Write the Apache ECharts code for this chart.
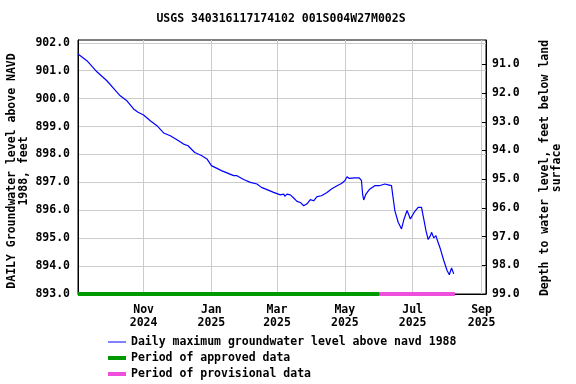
<!DOCTYPE html>
<html><head><meta charset="utf-8">
<script src="https://cdn.jsdelivr.net/npm/echarts@6/dist/echarts.min.js"></script>
<style>html,body{margin:0;padding:0;background:#fff}#c{width:576px;height:384px}</style>
</head><body><div id="c"></div>
<script>
const chartTitle = 'USGS 340316117174102 001S004W27M002S';
const seriesName = 'Daily maximum groundwater level above navd 1988';
const approvedName = 'Period of approved data';
const provisionalName = 'Period of provisional data';

const levelDates = [
 '2024-09-03','2024-09-11','2024-09-20','2024-09-29','2024-10-05','2024-10-11','2024-10-17','2024-10-23','2024-10-27',
 '2024-11-01','2024-11-07','2024-11-13','2024-11-19','2024-11-25','2024-12-01','2024-12-07','2024-12-11','2024-12-17',
 '2024-12-23','2024-12-28','2025-01-01','2025-01-06','2025-01-10','2025-01-15','2025-01-21','2025-01-24','2025-01-30',
 '2025-02-05','2025-02-11','2025-02-15','2025-02-20','2025-02-26','2025-03-04','2025-03-07','2025-03-08','2025-03-10',
 '2025-03-13','2025-03-16','2025-03-19','2025-03-22','2025-03-25','2025-03-28','2025-03-31','2025-04-03','2025-04-06',
 '2025-04-10','2025-04-15','2025-04-19','2025-04-24','2025-04-28','2025-05-01','2025-05-03','2025-05-05','2025-05-10',
 '2025-05-14','2025-05-16','2025-05-17','2025-05-18','2025-05-20','2025-05-23','2025-05-28','2025-06-01','2025-06-06',
 '2025-06-09','2025-06-12','2025-06-13','2025-06-15','2025-06-18','2025-06-21','2025-06-23','2025-06-26','2025-06-27',
 '2025-06-29','2025-07-01','2025-07-03','2025-07-06','2025-07-09','2025-07-11','2025-07-13','2025-07-15','2025-07-17',
 '2025-07-18','2025-07-20','2025-07-22','2025-07-23','2025-07-26','2025-07-29','2025-08-01','2025-08-03','2025-08-05',
 '2025-08-07'
];
const levelValues = [
 901.60,901.36,900.96,900.64,900.37,900.10,899.92,899.63,899.51,
 899.41,899.21,899.03,898.77,898.67,898.53,898.37,898.31,898.07,
 897.96,897.84,897.60,897.50,897.42,897.34,897.24,897.24,897.10,
 897.00,896.94,896.82,896.74,896.64,896.55,896.58,896.50,896.58,
 896.55,896.44,896.32,896.28,896.16,896.23,896.38,896.34,896.49,
 896.52,896.64,896.76,896.88,896.96,897.06,897.20,897.14,897.16,
 897.16,897.06,896.58,896.37,896.58,896.74,896.88,896.88,896.94,
 896.91,896.88,896.58,895.99,895.57,895.33,895.65,895.99,895.99,
 895.69,895.83,895.96,896.10,896.10,895.69,895.27,894.95,895.09,
 895.21,895.01,895.09,894.95,894.61,894.20,893.84,893.69,893.93,
 893.72
];
const approvedPeriod = ['2024-09-03','2025-06-01'];
const provisionalPeriod = ['2025-06-01','2025-08-08'];
const xRange = ['2024-09-03','2025-09-05'];
const xTickDates = ['2024-11-01','2025-01-01','2025-03-01','2025-05-01','2025-07-01','2025-09-01'];
const xTickLabels = ['Nov\n2024','Jan\n2025','Mar\n2025','May\n2025','Jul\n2025','Sep\n2025'];
const leftTicks = [893,894,895,896,897,898,899,900,901,902];
const leftRange = [893, 902.1];
const rightTicks = [91,92,93,94,95,96,97,98,99];
const rightRange = [90.15, 99];
const leftAxisName = 'DAILY Groundwater level above NAVD\n1988, feet';
const rightAxisName = 'Depth to water level, feet below land\nsurface';

const FONT = 'DejaVu Sans Mono';
const FS = 11.5;
const FONTSTR = 'bold 11.5px "DejaVu Sans Mono"';
const ts = s => new Date(s + 'T00:00:00').getTime();
const xTickTs = xTickDates.map(ts);
const levelData = levelDates.map((d, i) => [ts(d), levelValues[i]]);
const txt = {fontFamily: FONT, fontSize: FS, fontWeight: 'bold', color: '#000'};

const chart = echarts.init(document.getElementById('c'), null, {renderer: 'canvas'});
chart.setOption({
  animation: false,
  backgroundColor: '#fff',
  grid: {left: 78, right: 90, top: 40, bottom: 90, show: true, borderColor: '#000', borderWidth: 1, backgroundColor: 'transparent'},
  graphic: [
    {type: 'text', x: 281, y: 19, style: {text: chartTitle, textAlign: 'center', textVerticalAlign: 'middle', font: FONTSTR, fill: '#000'}},
    {type: 'text', x: 18, y: 171, rotation: Math.PI / 2, style: {text: leftAxisName, textAlign: 'center', textVerticalAlign: 'middle', font: FONTSTR, fill: '#000', lineHeight: 12.5}},
    {type: 'text', x: 551, y: 168, rotation: Math.PI / 2, style: {text: rightAxisName, textAlign: 'center', textVerticalAlign: 'middle', font: FONTSTR, fill: '#000', lineHeight: 12.5}}
  ],
  legend: {
    orient: 'vertical', left: 108, top: 336, padding: 0, itemWidth: 18, itemHeight: 12, itemGap: 4,
    selectedMode: false,
    textStyle: {fontFamily: FONT, fontSize: FS, fontWeight: 'bold', color: '#000'},
    data: [
      {name: seriesName, icon: 'path://M0,0H18V1H0Z'},
      {name: approvedName, icon: 'path://M0,0H18V4H0Z'},
      {name: provisionalName, icon: 'path://M0,0H18V4H0Z'}
    ]
  },
  xAxis: {
    type: 'value', min: ts(xRange[0]), max: ts(xRange[1]),
    axisLine: {show: true, lineStyle: {color: '#000', width: 1}},
    axisTick: {show: false, customValues: xTickTs},
    axisLabel: Object.assign({customValues: xTickTs, margin: 10, lineHeight: 13, hideOverlap: false,
      formatter: v => { const i = xTickTs.indexOf(v); return i >= 0 ? xTickLabels[i] : ''; }}, txt),
    splitLine: {show: true, lineStyle: {color: '#cccccc', width: 1}}
  },
  yAxis: [
    {
      type: 'value', position: 'left', min: leftRange[0], max: leftRange[1],
      axisLine: {show: true, lineStyle: {color: '#000'}},
      axisTick: {show: false, customValues: leftTicks},
      axisLabel: Object.assign({customValues: leftTicks, margin: 8, formatter: v => v.toFixed(1)}, txt),
      splitLine: {show: true, lineStyle: {color: '#cccccc', width: 1}}
    },
    {
      type: 'value', position: 'right', inverse: true, min: rightRange[0], max: rightRange[1],
      axisLine: {show: true, lineStyle: {color: '#000'}},
      axisTick: {show: true, inside: true, length: 4, customValues: rightTicks, lineStyle: {color: '#000'}},
      axisLabel: Object.assign({customValues: rightTicks, margin: 6, formatter: v => v.toFixed(1)}, txt),
      splitLine: {show: false}
    }
  ],
  series: [
    {name: seriesName, type: 'line', data: levelData, showSymbol: false, symbol: 'none',
     lineStyle: {color: '#0000ff', width: 1.2}, itemStyle: {color: '#0000ff'}, z: 3},
    {name: approvedName, type: 'line', data: [[ts(approvedPeriod[0]), leftRange[0]], [ts(approvedPeriod[1]), leftRange[0]]],
     symbol: 'none', clip: false, lineStyle: {color: '#009a00', width: 4}, itemStyle: {color: '#009a00'}, z: 4},
    {name: provisionalName, type: 'line', data: [[ts(provisionalPeriod[0]), leftRange[0]], [ts(provisionalPeriod[1]), leftRange[0]]],
     symbol: 'none', clip: false, lineStyle: {color: '#ee4fdc', width: 4}, itemStyle: {color: '#ee4fdc'}, z: 4}
  ]
});
</script>
</body></html>
